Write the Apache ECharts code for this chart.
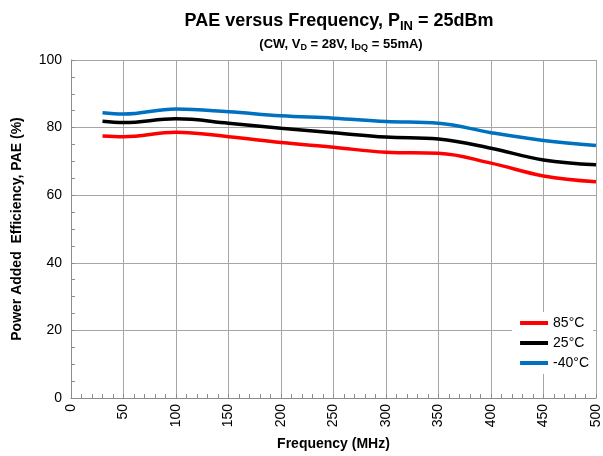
<!DOCTYPE html>
<html>
<head>
<meta charset="utf-8">
<script src="https://cdn.jsdelivr.net/npm/echarts@6/dist/echarts.min.js"></script>
<style>
  html, body { margin: 0; padding: 0; background: #fff; }
  #chart { width: 603px; height: 456px; }
</style>
</head>
<body>
<div id="chart"></div>
<script>
// frequency points (MHz)
const freq = [30, 50, 100, 150, 200, 250, 300, 350, 400, 450, 500]
// PAE (%) per temperature
const pae85 = [77.5, 77.3, 78.6, 77.3, 75.6, 74.2, 72.7, 72.4, 69.5, 65.7, 64.0]
const pae25 = [81.9, 81.5, 82.6, 81.3, 79.8, 78.5, 77.2, 76.6, 73.9, 70.4, 69.0]
const paeM40 = [84.4, 84.0, 85.5, 84.7, 83.5, 82.8, 81.8, 81.3, 78.5, 76.2, 74.7]
const seriesNames = ['85°C', '25°C', '-40°C']
const seriesColors = ['#ff0000', '#000000', '#0070c0']

const font = 'Liberation Sans, Arial, sans-serif'
const toPairs = arr => arr.map((v, i) => [freq[i], v])

const chart = echarts.init(document.getElementById('chart'))

chart.setOption({
  backgroundColor: '#fff',
  animation: false,
  title: [
    {
      text: 'PAE versus Frequency, P{sub|IN} = 25dBm',
      left: 334,
      top: 5,
      textAlign: 'center',
      textStyle: {
        fontFamily: font, fontSize: 18, fontWeight: 'bold', color: '#000',
        rich: {
          sub: { fontFamily: font, fontSize: 13, fontWeight: 'bold', verticalAlign: 'bottom', padding: [10, 0, 0, 0] }
        }
      }
    },
    {
      text: '(CW, V{sub|D} = 28V, I{sub|DQ} = 55mA)',
      left: 336,
      top: 31,
      textAlign: 'center',
      textStyle: {
        fontFamily: font, fontSize: 13, fontWeight: 'bold', color: '#000',
        rich: {
          sub: { fontFamily: font, fontSize: 9, fontWeight: 'bold', verticalAlign: 'bottom', padding: [7, 0, 0, 0] }
        }
      }
    }
  ],
  legend: {
    right: 10,
    top: 312,
    orient: 'vertical',
    itemWidth: 28,
    itemHeight: 4,
    itemGap: 6,
    backgroundColor: '#fff',
    padding: [4, 4, 4, 8],
    icon: 'rect',
    data: seriesNames,
    textStyle: { fontFamily: font, fontSize: 14, color: '#000' }
  },
  grid: { left: 71, right: 5, top: 60, bottom: 58 },
  xAxis: {
    type: 'value',
    min: 0,
    max: 500,
    interval: 50,
    name: 'Frequency (MHz)',
    nameLocation: 'middle',
    nameGap: 39,
    nameTextStyle: { fontFamily: font, fontSize: 14, fontWeight: 'bold', color: '#000' },
    axisLine: { show: true, lineStyle: { color: '#8c8c8c', width: 1 } },
    axisTick: { show: true, inside: true, length: 4, lineStyle: { color: '#8c8c8c' } },
    minorTick: { show: true, splitNumber: 5, length: 4, lineStyle: { color: '#8c8c8c' } },
    axisLabel: { rotate: 90, fontFamily: font, fontSize: 14, color: '#000', margin: 6 },
    splitLine: { show: true, lineStyle: { color: '#a6a6a6', width: 1 } }
  },
  yAxis: {
    type: 'value',
    min: 0,
    max: 100,
    interval: 20,
    name: 'Power Added  Efficiency, PAE (%)',
    nameLocation: 'middle',
    nameGap: 47,
    nameTextStyle: { fontFamily: font, fontSize: 14, fontWeight: 'bold', color: '#000' },
    axisLine: { show: true, lineStyle: { color: '#8c8c8c', width: 1 } },
    axisTick: { show: true, inside: true, length: 4, lineStyle: { color: '#8c8c8c' } },
    minorTick: { show: true, splitNumber: 4, length: 4, lineStyle: { color: '#8c8c8c' } },
    axisLabel: { fontFamily: font, fontSize: 14, color: '#000', margin: 9 },
    splitLine: { show: true, lineStyle: { color: '#a6a6a6', width: 1 } }
  },
  series: [pae85, pae25, paeM40].map((arr, i) => ({
    name: seriesNames[i],
    type: 'line',
    smooth: 0.4,
    showSymbol: false,
    lineStyle: { color: seriesColors[i], width: 3.5 },
    itemStyle: { color: seriesColors[i] },
    data: toPairs(arr)
  }))
})
</script>
</body>
</html>
